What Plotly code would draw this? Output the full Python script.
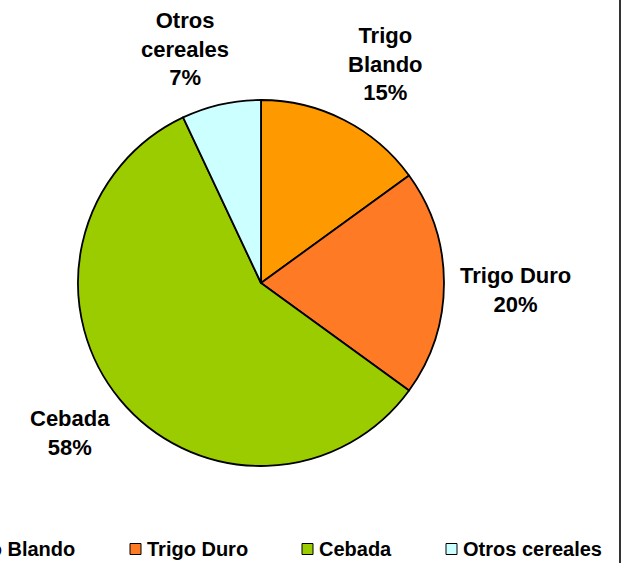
import plotly.graph_objects as go

# Cereal production share by crop
categories = ["Trigo Blando", "Trigo Duro", "Cebada", "Otros cereales"]
shares = [15, 20, 58, 7]
label_text = ["Trigo<br>Blando", "Trigo Duro", "Cebada", "Otros<br>cereales"]
colors = ["#FF9900", "#FF7A25", "#9ACC00", "#CCFFFF"]

W, H = 626, 563
FONT = "Liberation Sans, Arial, sans-serif"

# pie geometry in pixels
cx, cy, r = 261, 283, 183

# label centres (px) and legend swatch left edges (px)
label_pos = [(385, 64), (515, 290), (70, 433), (185, 49)]
legend_x = [-64, 130, 302, 446]
legend_y = 549


def px(x):
    return x / W


def py(y):
    return 1 - y / H


fig = go.Figure(
    go.Pie(
        labels=categories,
        values=shares,
        sort=False,
        direction="clockwise",
        rotation=0,
        marker=dict(colors=colors, line=dict(color="#000000", width=1.8)),
        textinfo="none",
        hoverinfo="label+percent",
        domain=dict(x=[px(cx - r), px(cx + r)], y=[py(cy + r), py(cy - r)]),
        showlegend=False,
    )
)

annotations = []
shapes = []

# slice labels with category name and share
for text, val, (lx, ly) in zip(label_text, shares, label_pos):
    annotations.append(
        dict(
            x=px(lx), y=py(ly), xref="paper", yref="paper",
            xanchor="center", yanchor="middle",
            text=f"{text}<br>{val}%",
            showarrow=False,
            align="center",
            font=dict(family=FONT, size=22, color="#000000", weight="bold"),
        )
    )

# legend row along the bottom
for name, col, lx in zip(categories, colors, legend_x):
    shapes.append(
        dict(
            type="rect", xref="paper", yref="paper",
            x0=px(lx), x1=px(lx + 11), y0=py(legend_y + 5.5), y1=py(legend_y - 5.5),
            fillcolor=col, line=dict(color="#000000", width=1),
        )
    )
    annotations.append(
        dict(
            x=px(lx + 15), y=py(legend_y), xref="paper", yref="paper",
            xanchor="left", yanchor="middle",
            text=name, showarrow=False,
            font=dict(family=FONT, size=20, color="#000000", weight="bold"),
        )
    )

# frame edge on the right
shapes.append(
    dict(
        type="line", xref="paper", yref="paper",
        x0=px(620), x1=px(620), y0=0, y1=1,
        line=dict(color="#333333", width=2),
    )
)

fig.update_layout(
    width=W,
    height=H,
    margin=dict(l=0, r=0, t=0, b=0),
    paper_bgcolor="#FFFFFF",
    plot_bgcolor="#FFFFFF",
    annotations=annotations,
    shapes=shapes,
)

fig.write_html("out.html")
